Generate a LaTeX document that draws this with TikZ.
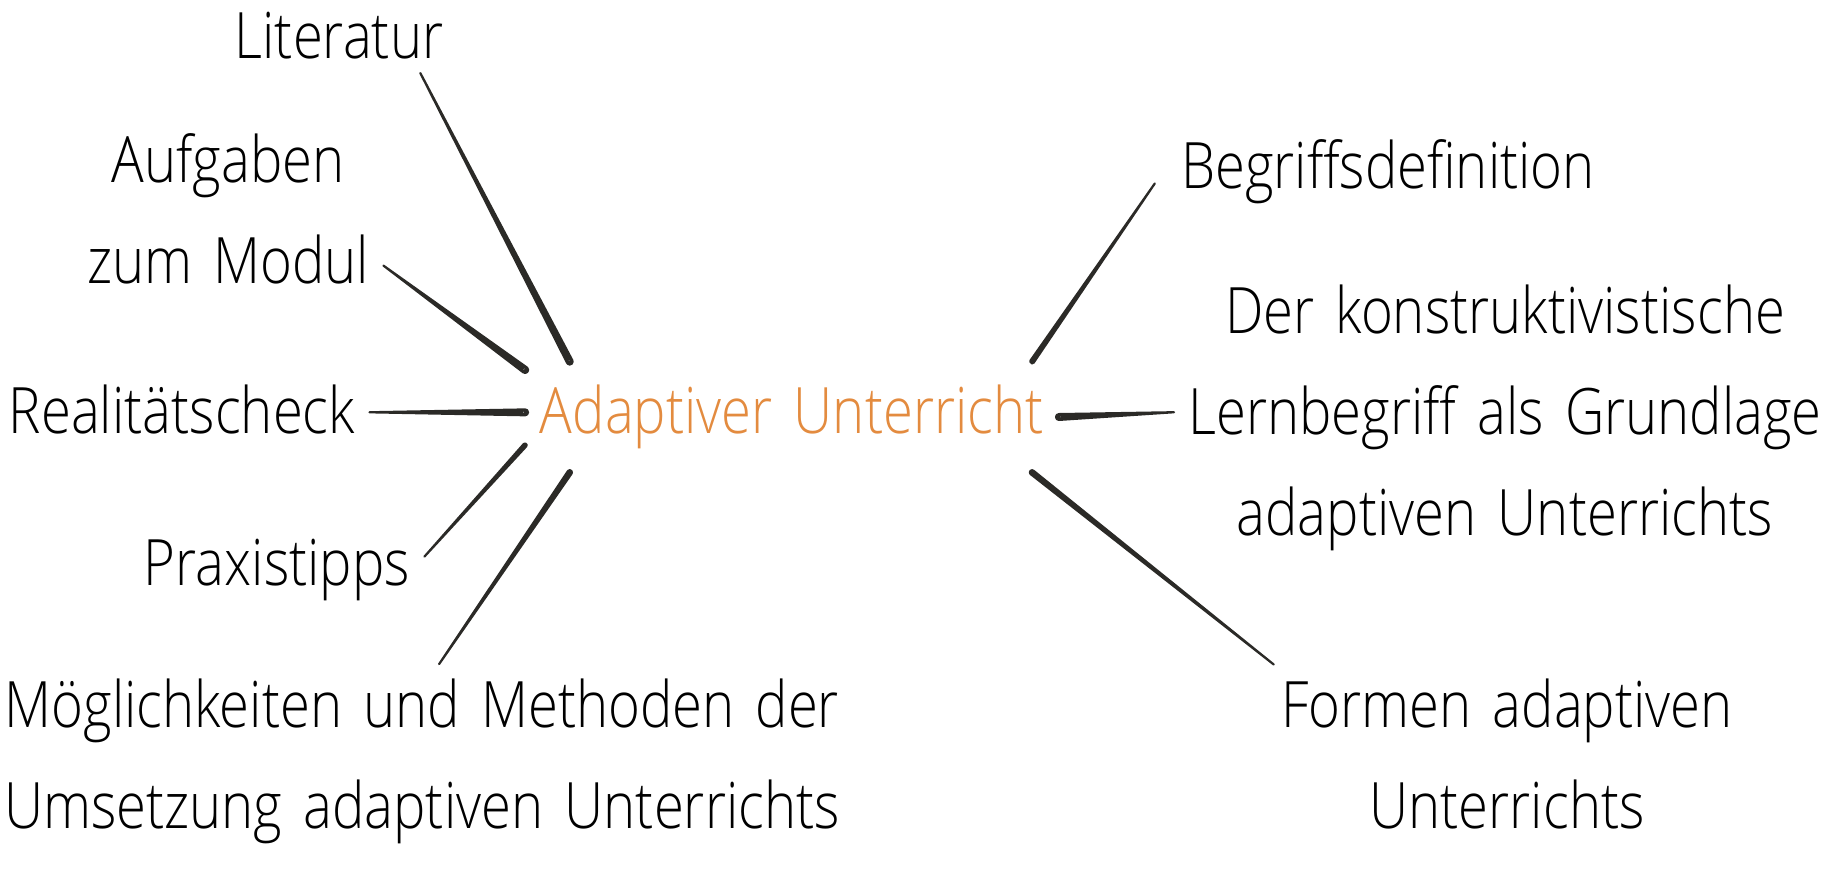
\documentclass[tikz,border=0pt]{standalone}
\usepackage{fontspec}
\IfFontExistsTF{Open Sans Light}
  {\setmainfont{Open Sans Light}[FakeStretch=0.85, WordSpace=1.5]}
  {\setmainfont{Open Sans}[FakeStretch=0.8, WordSpace=1.5]}
\usepackage{xcolor}
\definecolor{hubOrange}{HTML}{E38B3F}
\definecolor{lineDark}{HTML}{2B2A27}
\usepackage{tikz}
\usetikzlibrary{calc}
\tikzset{
    % Base style for all text nodes
    mind base/.style={
        font=\fontsize{32pt}{50.5pt}\selectfont,
        align=center,
        text=black,
    },
    % Central topic
    hub/.style={
        mind base,
        text=hubOrange,
        minimum width=266.5pt,
        minimum height=55pt,
        inner sep=0pt,
    },
    % Subtopics around the hub
    leaf/.style={
        mind base,
        inner sep=7pt,
    },
    % Tapered brush stroke, thick at the hub end
    spoke/.style={
        fill=lineDark,
        draw=lineDark,
        line width=1.1pt,
        line join=round,
        to path={
            ($(\tikztostart)!#1!90:(\tikztotarget)$) -- (\tikztotarget)
            -- ($(\tikztostart)!#1!-90:(\tikztotarget)$) -- cycle
            (\tikztostart) circle[radius=#1]
        },
    },
    spoke/.default=1.45pt,
}

\begin{document}
\begin{tikzpicture}[x=0.5pt, y=-0.5pt]
    \useasboundingbox (0,0) rectangle (1824,868);

    \node (hub) [hub] at (792,417) {Adaptiver Unterricht};

    % left side
    \node (lit) [leaf, anchor=base] at (339,58) {Literatur};
    \node (task) [leaf] at (228,209) {Aufgaben\\zum Modul};
    \node (real) [leaf, anchor=base] at (182,433) {Realitätscheck};
    \node (tips) [leaf, anchor=base] at (277,585) {Praxistipps};
    \node (methods) [leaf] at (422,761) {Möglichkeiten und Methoden der\\Umsetzung adaptiven Unterrichts};

    % right side
    \node (def) [leaf, anchor=base, inner xsep=13pt] at (1388,188) {Begriffsdefinition};
    \node (learn) [leaf] at (1505,418) {Der konstruktivistische\\Lernbegriff als Grundlage\\adaptiven Unterrichts};
    \node (forms) [leaf] at (1507,754) {Formen adaptiven\\Unterrichts};

    \path [spoke] (hub.166) to (lit.335);
    \path [spoke=1.5pt] (hub.170) to (task.340);
    \path [spoke] (hub.179) to (real.359);
    \path [spoke=0.85pt] (hub.186) to (tips.5);
    \path [spoke=1.1pt] (hub.194) to (methods.80);
    \path [spoke=0.95pt] (hub.13) to (def.183);
    \path [spoke=1.45pt] (hub.0) to (learn.179);
    \path [spoke=1.1pt] (hub.347.5) to (forms.159);
\end{tikzpicture}
\end{document}
